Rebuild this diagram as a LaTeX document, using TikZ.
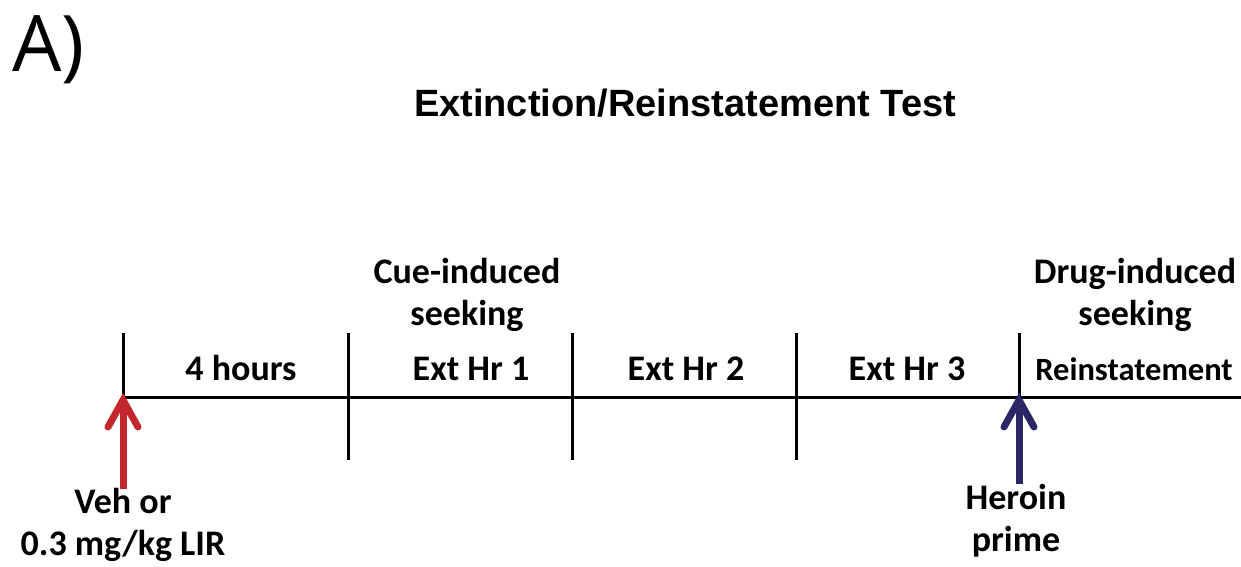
\documentclass[tikz,border=0pt]{standalone}
\usepackage{fontspec}
\setmainfont{Carlito}
\newfontfamily\titlefont{Liberation Sans}
\newfontfamily\panelfont{Open Sans}
\usetikzlibrary{calc}
\definecolor{vehred}{HTML}{C1272D}
\definecolor{primeblue}{HTML}{2B2766}
\begin{document}
\begin{tikzpicture}[x=1pt,y=-1pt,
  axis/.style={line width=3pt, line cap=butt},
  phase/.style={font=\fontsize{36}{42}\selectfont\bfseries, anchor=base, inner sep=0pt},
  phasesmall/.style={font=\fontsize{32.5}{42}\selectfont\bfseries, anchor=base, inner sep=0pt},
  note/.style={font=\fontsize{36}{42}\selectfont\bfseries, align=center, inner sep=0pt, anchor=base},
  shaft/.style={line width=7pt},
  barb/.style={line width=7pt, line cap=round, line join=miter}]
\useasboundingbox (0,0) rectangle (1241,566);

% panel letter and title
\node[font=\fontsize{78}{86}\selectfont\panelfont, anchor=base west, inner sep=0pt] (panel) at (12,71) {A)};
\node[font=\fontsize{38}{44}\selectfont\titlefont\bfseries, anchor=base, inner sep=0pt] (title) at (685,116) {Extinction/Reinstatement Test};

% timeline
\coordinate (t0) at (123,397);
\coordinate (t1) at (348,397);
\coordinate (t2) at (572,397);
\coordinate (t3) at (796,397);
\coordinate (t4) at (1019,397);
\coordinate (tend) at (1241,397);
\draw[axis] (t0) -- (tend);
\draw[axis] ($(t0)+(0,-64)$) -- (t0);
\draw[axis] ($(t1)+(0,-64)$) -- ($(t1)+(0,63)$);
\draw[axis] ($(t2)+(0,-64)$) -- ($(t2)+(0,63)$);
\draw[axis] ($(t3)+(0,-64)$) -- ($(t3)+(0,63)$);
\draw[axis] ($(t4)+(0,-64)$) -- (t4);

% phase labels
\node[phase] (hours) at (241,380) {4 hours};
\node[phase] (ext1) at (471,380) {Ext Hr 1};
\node[phase] (ext2) at (686,380) {Ext Hr 2};
\node[phase] (ext3) at (907,380) {Ext Hr 3};
\node[phasesmall] (reinst) at (1134,380) {Reinstatement};

\node[note] (cue) at (467,325) {Cue-induced\\seeking};
\node[note] (drug) at (1135,325) {Drug-induced\\seeking};

% injections
\coordinate (vehtip) at (123,400);
\coordinate (vehtail) at (123,489);
\draw[shaft, vehred] (vehtail) -- ($(vehtip)+(0,6)$);
\draw[barb, vehred] ($(vehtip)+(-15,27)$) -- (vehtip) -- ($(vehtip)+(15,27)$);
\node[note] (veh) at (123,555) {Veh or\\0.3 mg/kg LIR};

\coordinate (primetip) at (1019,400);
\coordinate (primetail) at (1019,484);
\draw[shaft, primeblue] (primetail) -- ($(primetip)+(0,6)$);
\draw[barb, primeblue] ($(primetip)+(-15,27)$) -- (primetip) -- ($(primetip)+(15,27)$);
\node[note] (prime) at (1016,551) {Heroin\\prime};
\end{tikzpicture}
\end{document}
